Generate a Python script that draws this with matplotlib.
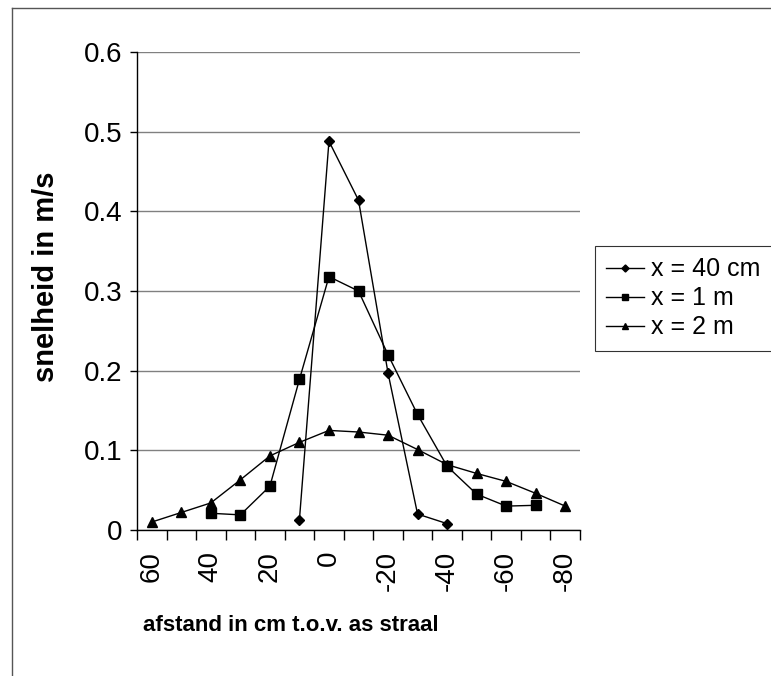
import matplotlib
matplotlib.use("Agg")
import matplotlib.pyplot as plt
from matplotlib.lines import Line2D

plt.rcParams['font.family'] = ['Liberation Sans', 'DejaVu Sans']

categories = [60, 50, 40, 30, 20, 10, 0, -10, -20, -30, -40, -50, -60, -70, -80]
tick_labels = ['60', '40', '20', '0', '-20', '-40', '-60', '-80']

# x = 40 cm (diamonds), defined at categories 10 .. -40
cat_40cm = [10, 0, -10, -20, -30, -40]
v_40cm = [0.013, 0.488, 0.414, 0.197, 0.020, 0.008]

# x = 1 m (squares), categories 40 .. -70
cat_1m = [40, 30, 20, 10, 0, -10, -20, -30, -40, -50, -60, -70]
v_1m = [0.021, 0.019, 0.055, 0.189, 0.318, 0.300, 0.220, 0.145, 0.080, 0.045, 0.030, 0.031]

# x = 2 m (triangles), categories 60 .. -80
cat_2m = categories
v_2m = [0.010, 0.022, 0.034, 0.063, 0.093, 0.110, 0.125, 0.123, 0.119, 0.101,
        0.082, 0.071, 0.061, 0.046, 0.030]

fig = plt.figure(figsize=(7.71, 6.76), dpi=100)
ax = fig.add_axes([137/771, 1 - 530/676, (580-137)/771, (530-52)/676])

pos = {c: i for i, c in enumerate(categories)}

ax.plot([pos[c] for c in cat_40cm], v_40cm, color='black', lw=1.0, marker='D',
        ms=5.5, mfc='black', mec='black', label='x = 40 cm')
ax.plot([pos[c] for c in cat_1m], v_1m, color='black', lw=1.0, marker='s',
        ms=7, mfc='black', mec='black', label='x = 1 m')
ax.plot([pos[c] for c in cat_2m], v_2m, color='black', lw=1.0, marker='^',
        ms=7, mfc='black', mec='black', label='x = 2 m')

ax.set_xlim(-0.5, len(categories) - 0.5)
ax.set_ylim(0, 0.6)
ax.set_yticks([0, 0.1, 0.2, 0.3, 0.4, 0.5, 0.6])
ax.set_yticklabels(['0', '0.1', '0.2', '0.3', '0.4', '0.5', '0.6'], fontsize=20)
ax.yaxis.grid(True, color='#808080', lw=1.0)
ax.set_axisbelow(True)

ax.set_xticks([i - 0.5 for i in range(len(categories) + 1)])
ax.set_xticklabels([])
ax.set_xticks([pos[int(t)] for t in tick_labels], minor=True)
ax.set_xticklabels(tick_labels, minor=True, rotation=90, fontsize=20)
ax.tick_params(axis='x', which='major', direction='out', length=7, width=1, color='black')
ax.tick_params(axis='x', which='minor', length=0, pad=15)
ax.tick_params(axis='y', direction='out', length=5, width=1, color='black', pad=5.5)

for s in ['top', 'right']:
    ax.spines[s].set_visible(False)
for s in ['left', 'bottom']:
    ax.spines[s].set_color('black')
    ax.spines[s].set_linewidth(1.0)

# axis titles placed as in the reference chart
fig.text(46/771, 1 - 277/676, 'snelheid in m/s', fontsize=21, fontweight='bold',
         rotation=90, ha='center', va='center')
fig.text(291/771, 1 - 615/676, 'afstand in cm t.o.v. as straal', fontsize=16,
         fontweight='bold', ha='center', va='top')

leg = ax.legend(loc='upper left', bbox_to_anchor=(595/771, 1 - 246/676),
                bbox_transform=fig.transFigure, fontsize=18, frameon=True,
                fancybox=False, handlelength=1.5, handletextpad=0.3,
                borderpad=0.45, labelspacing=0.2, markerscale=0.65,
                borderaxespad=0)
leg.get_frame().set_edgecolor('black')
leg.get_frame().set_linewidth(0.8)

# outer chart border (top and left visible)
fig.add_artist(Line2D([12/771, 1], [1 - 8/676, 1 - 8/676], transform=fig.transFigure,
                      color='#555555', lw=1.0))
fig.add_artist(Line2D([12/771, 12/771], [0, 1 - 8/676], transform=fig.transFigure,
                      color='#555555', lw=1.0))

fig.savefig('out.png', dpi=100)
